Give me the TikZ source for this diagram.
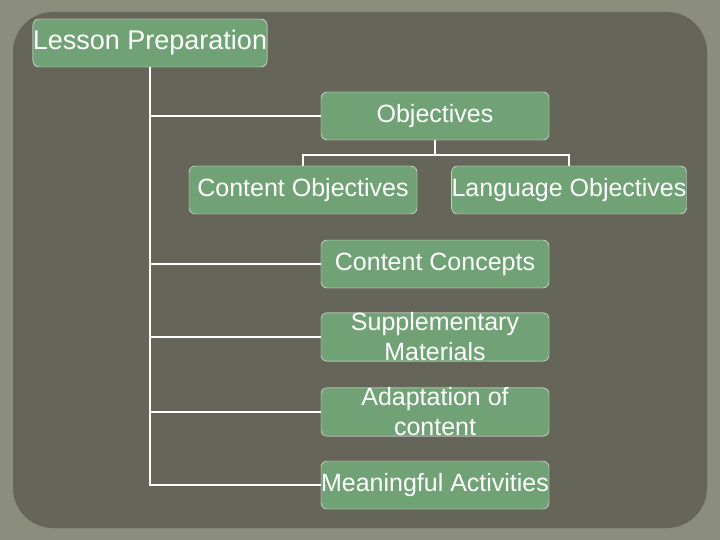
\documentclass[tikz,border=0pt]{standalone}
\usepackage{fontspec}
\setmainfont{Liberation Sans}
\definecolor{frameGray}{HTML}{8B8D7D}
\definecolor{slate}{HTML}{66655A}
\definecolor{leaf}{HTML}{70A275}
\tikzset{
  topic/.style={draw=white, fill=leaf, rounded corners=6pt, text=white,
    minimum width=228pt, minimum height=48pt, inner sep=0pt,
    font=\fontsize{25}{30}\selectfont, align=center},
  link/.style={draw=white, line width=2.5pt}
}
\begin{document}
\begin{tikzpicture}[x=1pt,y=-1pt]
        % Hintergrund
        \fill[frameGray] (0,0) rectangle (720,540);
        \fill[slate, rounded corners=40pt] (13,12) rectangle (707,528);
        \useasboundingbox (0,0) rectangle (720,540);

        % Kaesten
        \node[topic, minimum width=227pt, font=\fontsize{27}{30}\selectfont] (prep) at (150,43) {Lesson Preparation};
        \node[topic] (obj) at (435,116) {Objectives};
        \node[topic] (cobj) at (303,190) {Content Objectives};
        \node[topic] (lobj) at (569,190) {Language Objectives};
        \node[topic] (conc) at (435,264) {Content Concepts};
        \node[topic] (supp) at (435,337) {Supplementary\\Materials};
        \node[topic] (adap) at (435,412) {Adaptation of\\content};
        \node[topic] (acts) at (435,485) {Meaningful Activities};

        % Verbindungen
        \draw[link] (prep.south) |- (acts.west);
        \foreach \n in {obj,conc,supp,adap} {
            \draw[link] (prep.south |- \n.west) -- (\n.west);
        }
        \coordinate (split) at ([yshift=-15pt]obj.south);
        \draw[link] (obj.south) -- (split);
        \draw[link] (cobj.north) |- (split) -| (lobj.north);
    \end{tikzpicture}
\end{document}
